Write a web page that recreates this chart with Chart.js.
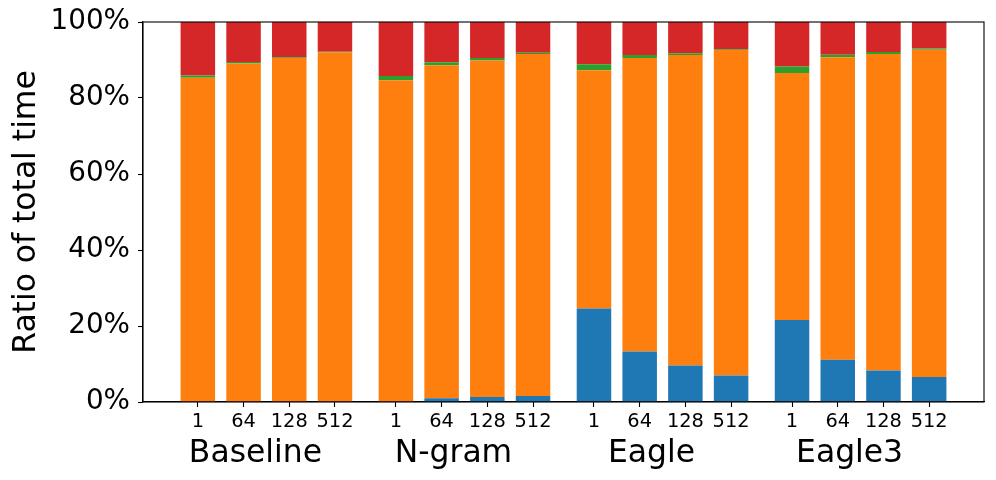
<!DOCTYPE html>
<html>
<head>
<meta charset="utf-8">
<script src="https://cdn.jsdelivr.net/npm/chart.js@4.4.1/dist/chart.umd.min.js"></script>
<style>
  html, body { margin: 0; padding: 0; background: #fff; }
  #c { display: block; }
</style>
</head>
<body>
<canvas id="c" width="996" height="480"></canvas>
<script>
// ---- data ----
const groups = ['Baseline', 'N-gram', 'Eagle', 'Eagle3'];
const batchSizes = ['1', '64', '128', '512'];
const yTicks = [0, 20, 40, 60, 80, 100];

// percentage of total time, one value per bar (groups × batch sizes)
const blueSeries   = [0, 0, 0, 0,        0, 1.0, 1.3, 1.6,      24.6, 13.3, 9.6, 7.0,   21.6, 11.1, 8.3, 6.6];
const orangeSeries = [85.3, 89.1, 90.5, 92.0,  84.7, 87.6, 88.6, 90.0,  62.7, 77.2, 81.7, 85.6,  65.0, 79.6, 83.3, 86.1];
const greenSeries  = [0.6, 0.4, 0.2, 0.2,  1.1, 0.8, 0.6, 0.3,  1.6, 0.8, 0.5, 0.2,  1.7, 0.7, 0.5, 0.3];
const redSeries    = [14.1, 10.5, 9.3, 7.8,  14.2, 10.6, 9.5, 8.1,  11.1, 8.7, 8.2, 7.2,  11.7, 8.6, 7.9, 7.0];

// ---- layout helpers ----
const GROUP_STEP = 13 / 3;
const positions = [];
groups.forEach((g, gi) => batchSizes.forEach((b, bi) => positions.push(gi * GROUP_STEP + bi)));
const toPoints = arr => arr.map((v, i) => ({ x: positions[i], y: v }));

const FONT = "'DejaVu Sans', sans-serif";

const framePlugin = {
  id: 'frameAndLabels',
  afterDraw(chart) {
    const { ctx, chartArea: a, scales } = chart;
    ctx.save();
    ctx.strokeStyle = '#000';
    ctx.lineWidth = 1.1;
    ctx.strokeRect(a.left, a.top, a.right - a.left, a.bottom - a.top);

    // group labels
    ctx.fillStyle = '#000';
    ctx.font = "31.4px " + FONT;
    ctx.textAlign = 'center';
    ctx.textBaseline = 'alphabetic';
    groups.forEach((g, gi) => {
      const c = scales.x.getPixelForValue(gi * GROUP_STEP + 1.5);
      ctx.fillText(g, c - 11, 462);
    });

    // y title
    ctx.translate(34.5, (a.top + a.bottom) / 2);
    ctx.rotate(-Math.PI / 2);
    ctx.fillText('Ratio of total time', 0, 0);
    ctx.restore();
  }
};

new Chart(document.getElementById('c'), {
  type: 'bar',
  data: {
    datasets: [
      { label: 'Series 1', data: toPoints(blueSeries),   backgroundColor: '#1f77b4' },
      { label: 'Series 2', data: toPoints(orangeSeries), backgroundColor: '#ff7f0e' },
      { label: 'Series 3', data: toPoints(greenSeries),  backgroundColor: '#2ca02c' },
      { label: 'Series 4', data: toPoints(redSeries),    backgroundColor: '#d62728' }
    ]
  },
  options: {
    responsive: false,
    animation: false,
    devicePixelRatio: 1,
    layout: { padding: { top: 22, right: 12, left: 0, bottom: 0 } },
    datasets: { bar: { categoryPercentage: 1, barPercentage: 0.755, borderWidth: 0 } },
    plugins: { legend: { display: false }, tooltip: { enabled: false } },
    scales: {
      x: {
        type: 'linear',
        stacked: true,
        offset: false,
        min: -1.2,
        max: 3 * GROUP_STEP + 3 + 1.2,
        afterBuildTicks(scale) { scale.ticks = positions.map(v => ({ value: v })); },
        afterFit(scale) { scale.height = 78; scale.paddingLeft = 0; scale.paddingRight = 0; },
        ticks: {
          autoSkip: false,
          maxRotation: 0,
          padding: 3,
          color: '#000',
          font: { family: FONT, size: 19.4 },
          callback(value, index) { return batchSizes[index % batchSizes.length]; }
        },
        grid: { offset: false, drawOnChartArea: false, drawTicks: true, tickLength: 5, tickColor: '#000', tickWidth: 1.1 },
        border: { display: true, color: '#000', width: 1.1 }
      },
      y: {
        stacked: true,
        min: 0,
        max: 100,
        afterBuildTicks(scale) { scale.ticks = yTicks.map(v => ({ value: v })); },
        afterFit(scale) { scale.width = 143; scale.paddingTop = 0; scale.paddingBottom = 0; },
        ticks: {
          padding: 8,
          color: '#000',
          font: { family: FONT, size: 27.8 },
          callback(value) { return value + '%'; }
        },
        grid: { drawOnChartArea: false, drawTicks: true, tickLength: 5, tickColor: '#000', tickWidth: 1.1 },
        border: { display: true, color: '#000', width: 1.1 }
      }
    }
  },
  plugins: [framePlugin]
});
</script>
</body>
</html>
